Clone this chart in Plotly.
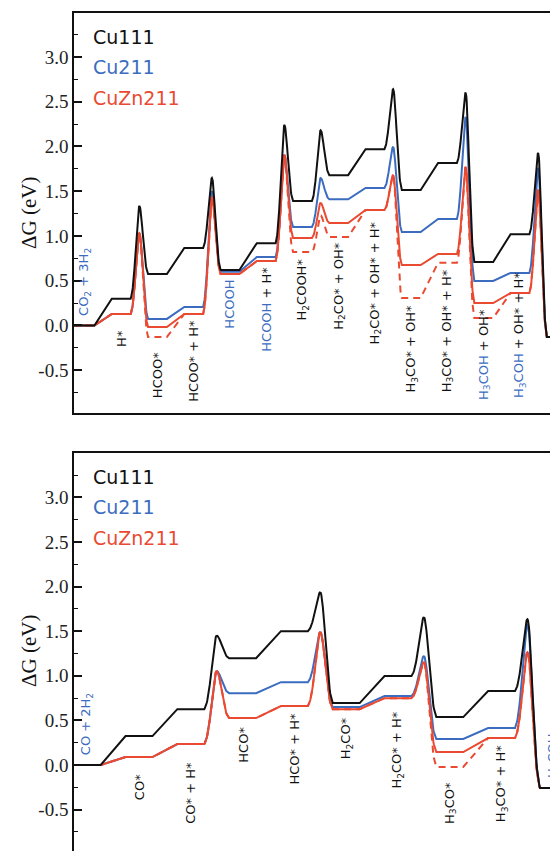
import numpy as np
import plotly.graph_objects as go

# ---------------- data: CO2 + 3H2 -> CH3OH + H2O (top panel) ----------------
top_labels = [
    ("CO<sub>2</sub> + 3H<sub>2</sub>", ""),
    ("", "H*"),
    ("", "HCOO*"),
    ("", "HCOO* + H*"),
    ("HCOOH", ""),
    ("HCOOH", " + H*"),
    ("", "H<sub>2</sub>COOH*"),
    ("", "H<sub>2</sub>CO* + OH*"),
    ("", "H<sub>2</sub>CO* + OH* + H*"),
    ("", "H<sub>3</sub>CO* + OH*"),
    ("", "H<sub>3</sub>CO* + OH* + H*"),
    ("H<sub>3</sub>COH", " + OH*"),
    ("H<sub>3</sub>COH", " + OH* + H*"),
    ("H<sub>3</sub>COH+H<sub>2</sub>O", ""),
]
top_cu111 = [0.00, 0.30, 0.575, 0.866, 0.62, 0.92, 1.39, 1.68, 1.97, 1.514, 1.816, 0.71, 1.02, -0.128]
top_cu111_ts = [None, 1.335, None, 1.648, None, 2.24, 2.18, None, 2.64, None, 2.60, None, 1.927]
top_cu211 = [0.00, 0.128, 0.073, 0.207, 0.60, 0.765, 1.10, 1.41, 1.536, 1.045, 1.19, 0.497, 0.587, -0.128]
top_cu211_ts = [None, 1.03, None, 1.50, None, 1.905, 1.648, None, 1.994, None, 2.33, None, 1.76]
top_cuzn211 = [0.00, 0.128, -0.017, 0.128, 0.575, 0.72, 0.978, 1.145, 1.29, 0.676, 0.80, 0.251, 0.363, -0.128]
top_cuzn211_ts = [None, 1.03, None, 1.436, None, 1.905, 1.37, None, 1.68, None, 1.77, None, 1.514]
top_cuzn211_alt = [0.00, 0.128, -0.128, 0.128, 0.575, 0.72, 0.82, 0.99, 1.29, 0.307, 0.70, 0.084, 0.363, -0.128]
top_cuzn211_alt_ts = [None, 1.03, None, 1.436, None, 1.905, 1.23, None, 1.68, None, 1.77, None, 1.514]

# ---------------- data: CO + 2H2 -> CH3OH (bottom panel) ----------------
bot_labels = [
    ("CO + 2H<sub>2</sub>", ""),
    ("", "CO*"),
    ("", "CO* + H*"),
    ("", "HCO*"),
    ("", "HCO* + H*"),
    ("", "H<sub>2</sub>CO*"),
    ("", "H<sub>2</sub>CO* + H*"),
    ("", "H<sub>3</sub>CO*"),
    ("", "H<sub>3</sub>CO* + H*"),
    ("H<sub>3</sub>COH", ""),
]
bot_cu111 = [0.00, 0.324, 0.626, 1.197, 1.50, 0.694, 0.996, 0.537, 0.828, -0.257]
bot_cu111_ts = [None, None, 1.449, None, 1.935, None, 1.655, None, 1.633]
bot_cu211 = [0.00, 0.089, 0.235, 0.805, 0.928, 0.649, 0.772, 0.291, 0.414, -0.257]
bot_cu211_ts = [None, None, 1.051, None, 1.488, None, 1.219, None, 1.566]
bot_cuzn211 = [0.00, 0.089, 0.235, 0.526, 0.66, 0.626, 0.749, 0.145, 0.302, -0.257]
bot_cuzn211_ts = [None, None, 1.051, None, 1.488, None, 1.152, None, 1.264]
bot_cuzn211_alt = [0.00, 0.089, 0.235, 0.526, 0.66, 0.626, 0.749, -0.022, 0.302, -0.257]
bot_cuzn211_alt_ts = [None, None, 1.051, None, 1.488, None, 1.152, None, 1.264]

series_names = ["Cu111", "Cu211", "CuZn211"]
y_tick_vals = [-0.5, 0.0, 0.5, 1.0, 1.5, 2.0, 2.5, 3.0]
y_tick_text = ["-0.5", "0.0", "0.5", "1.0", "1.5", "2.0", "2.5", "3.0"]

# ---------------- layout-only settings ----------------
OFF = 8                      # page body margin (px) added by the browser
W, H = 558 - OFF, 851 - OFF  # figure size so the page fits the window
ML = 74 - OFF
BLACK, BLUE, RED = "#111111", "#3b6cc0", "#ea4a31"
TOP_XR = [-0.303, 13.048]
BOT_XR = [-0.255, 9.089]
TOP_YR = [-0.978, 3.495]
BOT_YR = [-0.964, 3.50]
top_label_y = [0.084, -0.03, -0.27, 0.084, 0.54, 0.676, 0.765, 0.955, 1.18, 0.26, 0.65, 0.21, 0.62, -0.08]
bot_label_y = [0.09, -0.08, 0.056, 0.447, 0.615, 0.56, 0.615, -0.17, 0.246, -0.17]
HW = 0.26  # plateau half width (in state units)


def px_x(p):  # window pixel -> paper x
    return (p - OFF - ML) / (W - ML)


def px_y(p):  # window pixel -> paper y
    return 1 - (p - OFF) / H


def bump(t, s=0.55):
    c = np.exp(-(1 / s) ** 2)
    return (np.exp(-((1 - t) / s) ** 2) - c) / (1 - c)


def profile(levels, ts, xr, n=26):
    xs, ys = [], []
    last = len(levels) - 1
    for i, e in enumerate(levels):
        x0 = xr[0] if i == 0 else i - HW
        x1 = xr[1] if i == last else i + HW
        xs += [x0, x1]
        ys += [e, e]
        if i < last and ts[i] is not None:
            pk = ts[i]
            nxt = levels[i + 1]
            t = np.linspace(0, 1, n)[1:]
            xl = (i + HW) + (0.5 - HW) * t
            yl = e + (pk - e) * bump(t)
            t2 = np.linspace(0, 1, n)[1:-1]
            xrr = (i + 0.5) + (0.5 - HW) * t2
            yr = nxt + (pk - nxt) * bump(1 - t2)
            xs += list(xl) + list(xrr)
            ys += list(yl) + list(yr)
    return xs, ys


fig = go.Figure()

panels = [
    dict(xa="x", ya="y", yo="y3", xr=TOP_XR,
         blue=(top_cu211, top_cu211_ts), red=(top_cuzn211, top_cuzn211_ts),
         alt=(top_cuzn211_alt, top_cuzn211_alt_ts), black=(top_cu111, top_cu111_ts)),
    dict(xa="x2", ya="y2", yo="y4", xr=BOT_XR,
         blue=(bot_cu211, bot_cu211_ts), red=(bot_cuzn211, bot_cuzn211_ts),
         alt=(bot_cuzn211_alt, bot_cuzn211_alt_ts), black=(bot_cu111, bot_cu111_ts)),
]

for p in panels:
    for key, col, dash, yax, name in [("blue", BLUE, "solid", p["ya"], series_names[1]),
                                      ("red", RED, "solid", p["ya"], series_names[2]),
                                      ("alt", RED, "7px,5px", p["ya"], series_names[2]),
                                      ("black", BLACK, "solid", p["yo"], series_names[0])]:
        xs, ys = profile(p[key][0], p[key][1], p["xr"])
        fig.add_trace(go.Scatter(x=xs, y=ys, mode="lines", name=name,
                                 line=dict(color=col, width=2, dash=dash),
                                 xaxis=p["xa"], yaxis=yax, showlegend=False,
                                 hoverinfo="skip"))

ann = []


def label_text(parts):
    blue, black = parts
    s = ""
    if blue:
        s += f'<span style="color:{BLUE}">{blue}</span>'
    if black:
        s += f'<span style="color:{BLACK}">{black}</span>'
    return s


for labels, ly, xa, ya in [(top_labels, top_label_y, "x", "y"), (bot_labels, bot_label_y, "x2", "y2")]:
    last = len(labels) - 1
    for i, (parts, yv) in enumerate(zip(labels, ly)):
        anchor = "bottom" if i in (0, last) else "top"
        ann.append(dict(x=i, y=yv, xref=xa, yref=ya, text=label_text(parts),
                        showarrow=False, textangle=-90, xanchor="center", yanchor=anchor,
                        font=dict(family="DejaVu Sans", size=13, color=BLACK)))

# coloured surface names
for ys_ in ([37, 67, 98], [477, 507, 538]):
    for name, col, yy in zip(series_names, [BLACK, BLUE, RED], ys_):
        ann.append(dict(x=px_x(91), y=px_y(yy), xref="paper", yref="paper", text=name,
                        showarrow=False, xanchor="left", yanchor="middle",
                        font=dict(family="DejaVu Sans", size=19, color=col)))

# axis titles
for yy in (213, 651):
    ann.append(dict(x=px_x(29), y=px_y(yy), xref="paper", yref="paper", text="ΔG (eV)",
                    showarrow=False, textangle=-90, xanchor="center", yanchor="middle",
                    font=dict(family="Liberation Serif", size=21, color=BLACK)))

common_x = dict(showgrid=False, zeroline=False, showticklabels=False, ticks="",
                showline=True, linecolor=BLACK, linewidth=1.5, fixedrange=True)
common_y = dict(showgrid=False, zeroline=False, showline=True, linecolor=BLACK, linewidth=1.5,
                ticks="inside", ticklen=8, tickwidth=1.5, tickcolor=BLACK,
                tickmode="array", tickvals=y_tick_vals, ticktext=y_tick_text,
                tickfont=dict(family="Liberation Serif", size=19, color="#222222"),
                minor=dict(ticks="inside", ticklen=4, tickwidth=1.2, tickcolor=BLACK,
                           dtick=0.25, tick0=0, showgrid=False),
                fixedrange=True)
right_y = dict(showgrid=False, zeroline=False, showline=False, side="right",
               ticks="inside", ticklen=4, tickwidth=1.5, tickcolor=BLACK,
               tickmode="array", tickvals=y_tick_vals, showticklabels=False, fixedrange=True)

fig.update_layout(
    width=W, height=H,
    margin=dict(l=ML, r=0, t=0, b=0, pad=0),
    paper_bgcolor="white", plot_bgcolor="white",
    showlegend=False,
    xaxis=dict(domain=[0, 1], anchor="y", range=TOP_XR, mirror=True, **common_x),
    yaxis=dict(domain=[px_y(413), px_y(12.7)], anchor="x", range=TOP_YR, **common_y),
    yaxis3=dict(overlaying="y", anchor="x", range=TOP_YR, **right_y),
    xaxis2=dict(domain=[0, 1], anchor="y2", range=BOT_XR, side="top", **common_x),
    yaxis2=dict(domain=[0, px_y(452.7)], anchor="x2", range=BOT_YR, **common_y),
    yaxis4=dict(overlaying="y2", anchor="x2", range=BOT_YR, **right_y),
    annotations=ann,
)

fig.write_html("out.html")
